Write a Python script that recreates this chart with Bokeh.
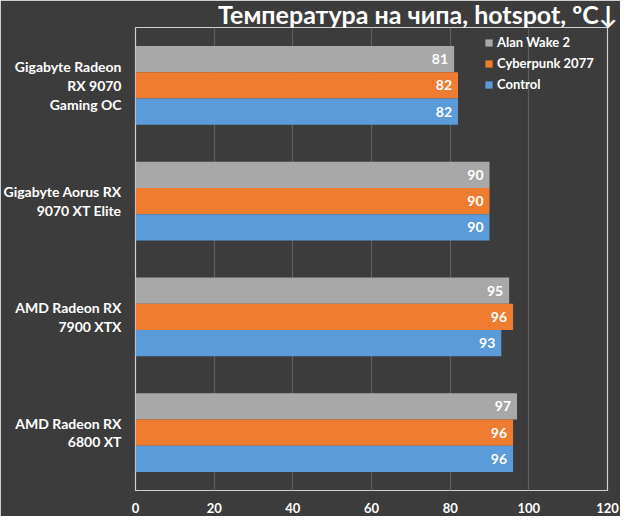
from bokeh.plotting import figure
from bokeh.models import ColumnDataSource, FactorRange, Range1d, Legend, LegendItem, Title, FixedTicker
from bokeh.transform import dodge
from bokeh.core.properties import value
from bokeh.embed import file_html
from bokeh.resources import INLINE

cards = ["Gigabyte Radeon\nRX 9070\nGaming OC",
         "Gigabyte Aorus RX\n9070 XT Elite",
         "AMD Radeon RX\n7900 XTX",
         "AMD Radeon RX\n6800 XT"]
series = ["Alan Wake 2", "Cyberpunk 2077", "Control"]
alan_wake = [81, 90, 95, 97]
cyberpunk = [82, 90, 96, 96]
control = [82, 90, 93, 96]
x_ticks = [0, 20, 40, 60, 80, 100, 120]
title_text = "Температура на чипа, hotspot, ºC↓"

colors = ["#a8a8a8", "#ef7d31", "#5b9bd9"]
offsets = [0.227, 0.0, -0.227]
FONT = "Lato"
BG = "#3c3c3c"

src = ColumnDataSource(dict(card=cards, aw=alan_wake, cp=cyberpunk, ct=control,
                            aw_t=[str(v) for v in alan_wake],
                            cp_t=[str(v) for v in cyberpunk],
                            ct_t=[str(v) for v in control]))

p = figure(width=620, height=516, output_backend="svg", toolbar_location=None,
           y_range=FactorRange(factors=cards[::-1], range_padding=0),
           x_range=Range1d(0, 120))
p.min_border_left = 133
p.min_border_right = 13
p.min_border_top = 27
p.min_border_bottom = 26
p.background_fill_color = BG
p.border_fill_color = BG
p.outline_line_color = "#d0d0d0"
p.outline_line_width = 1.2

items = []
for key, name, col, off in zip(["aw", "cp", "ct"], series, colors, offsets):
    r = p.hbar(y=dodge("card", off, range=p.y_range), right=key, left=0,
               height=0.227, fill_color=col, line_color=None, source=src)
    items.append(LegendItem(label=name, renderers=[r]))
    p.text(x=key, y=dodge("card", off, range=p.y_range), text=key + "_t", source=src,
           text_align="right", text_baseline="middle", x_offset=-6,
           text_color="white", text_font=value(FONT), text_font_size="14px",
           text_font_style="bold")

title = Title(text=title_text, align="right", vertical_align="top", text_color="white",
              text_font=FONT, text_font_size="25px", text_font_style="bold",
              standoff=-6, offset=-10, text_line_height=1.0)
p.add_layout(title, "above")

legend = Legend(items=items, location=(349, 397))
legend.background_fill_alpha = 0
legend.border_line_color = None
legend.label_text_color = "white"
legend.label_text_font = FONT
legend.label_text_font_size = "13px"
legend.label_text_font_style = "bold"
legend.glyph_width = 9
legend.glyph_height = 9
legend.label_height = 18
legend.label_standoff = 4
legend.spacing = 3
legend.padding = 2
legend.margin = 0
p.add_layout(legend, "center")

p.xgrid.grid_line_color = "#5e5e5e"
p.xgrid.grid_line_width = 1.2
p.xgrid.ticker = FixedTicker(ticks=x_ticks)
p.ygrid.grid_line_color = None

p.xaxis.ticker = FixedTicker(ticks=x_ticks)
p.xaxis.axis_line_color = None
p.xaxis.major_tick_line_color = None
p.xaxis.minor_tick_line_color = None
p.xaxis.major_tick_out = 0
p.xaxis.major_tick_in = 0
p.xaxis.major_label_standoff = 12
p.xaxis.major_label_text_color = "white"
p.xaxis.major_label_text_font = FONT
p.xaxis.major_label_text_font_size = "13px"
p.xaxis.major_label_text_font_style = "bold"

p.yaxis.axis_line_color = None
p.yaxis.major_tick_line_color = None
p.yaxis.minor_tick_line_color = None
p.yaxis.major_tick_out = 0
p.yaxis.major_tick_in = 0
p.yaxis.major_label_standoff = 14
p.yaxis.major_label_text_align = "center"
p.yaxis.major_label_text_color = "white"
p.yaxis.major_label_text_font = FONT
p.yaxis.major_label_text_font_size = "14px"
p.yaxis.major_label_text_font_style = "bold"
p.yaxis.major_label_text_line_height = 1.1

open("out.html", "w").write(file_html(p, INLINE))
